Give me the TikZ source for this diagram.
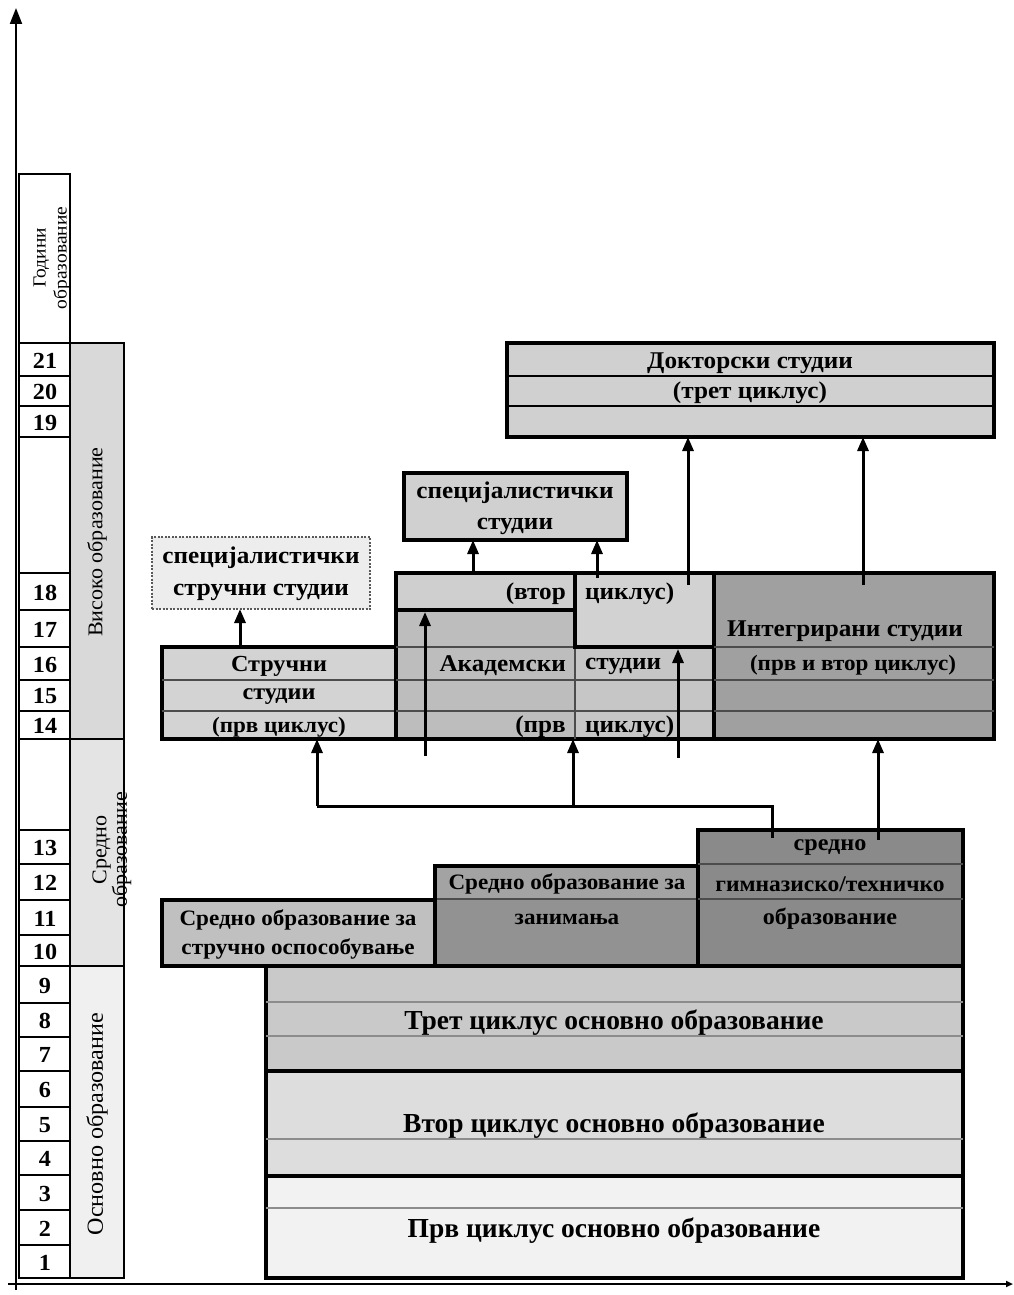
\documentclass[tikz,border=0pt]{standalone}
\usepackage{fontspec}
\setmainfont{Liberation Serif}[FakeStretch=1.05]
\newfontfamily\narrowf{Liberation Serif}
\usetikzlibrary{arrows.meta}
\definecolor{cDoc}{HTML}{D0D0D0}
\definecolor{cSpa}{HTML}{D0D0D0}
\definecolor{cSpp}{HTML}{EDEDED}
\definecolor{cStr}{HTML}{D3D3D3}
\definecolor{cALT}{HTML}{CFCFCF}
\definecolor{cALB}{HTML}{BDBDBD}
\definecolor{cART}{HTML}{D2D2D2}
\definecolor{cARB}{HTML}{C6C6C6}
\definecolor{cInt}{HTML}{A0A0A0}
\definecolor{cGym}{HTML}{8A8A8A}
\definecolor{cVocT}{HTML}{A3A3A3}
\definecolor{cVocB}{HTML}{929292}
\definecolor{cVtr}{HTML}{C0C0C0}
\definecolor{cP3}{HTML}{C9C9C9}
\definecolor{cP2}{HTML}{DDDDDD}
\definecolor{cP1}{HTML}{F2F2F2}
\definecolor{cHi}{HTML}{D9D9D9}
\definecolor{cMid}{HTML}{E4E4E4}
\definecolor{cPri}{HTML}{F0F0F0}
\newcommand\bx[6]{\pgfmathsetmacro\bxw{#4-#2}\pgfmathsetmacro\bxh{#5-#3}%
  \node[#6, minimum width=\bxw pt, minimum height=\bxh pt] (#1) at ({(#2+#4)/2},{(#3+#5)/2}) {};}
\begin{document}
\begin{tikzpicture}[x=1pt,y=-1pt,
  box/.style={draw=black, line width=3.4pt, inner sep=0pt, outer sep=0pt},
  cell/.style={draw=black, line width=2pt, inner sep=0pt, outer sep=0pt, fill=white},
  band/.style={draw=black, line width=1.4pt, inner sep=0pt, outer sep=0pt},
  sep/.style={draw=black!70, line width=1.2pt},
  psep/.style={draw=black!45, line width=1.2pt},
  tsep/.style={draw=black, line width=3.2pt},
  lbl/.style={font=\fontsize{24}{31}\selectfont\bfseries, inner sep=0pt, align=center},
  lbls/.style={font=\fontsize{22}{29}\selectfont\bfseries, inner sep=0pt, align=center},
  blbl/.style={font=\narrowf\fontsize{27.5}{30}\selectfont\bfseries, inner sep=0pt},
  num/.style={font=\fontsize{23}{24}\selectfont\bfseries, inner sep=0pt},
  vlab/.style={font=\fontsize{21}{21}\selectfont, rotate=90, inner sep=0pt, align=center},
  arr/.style={line width=3pt, -{Triangle[width=11pt,length=14pt]}},
  conn/.style={line width=3pt},
  dbox/.style={draw=black!65, line width=1.2pt, dash pattern=on 2pt off 1.5pt, inner sep=0pt, outer sep=0pt, fill=cSpp},
]
\useasboundingbox (0,0) rectangle (1014,1295);
\fill[white] (0,0) rectangle (1014,1295);

% ---------- axes ----------
\coordinate (ybot) at (16,1290);
\coordinate (ytop) at (16,8);
\coordinate (xbeg) at (8,1284);
\coordinate (xend) at (1013,1284);
\draw[line width=2pt, -{Triangle[width=12pt,length=16pt]}] (ybot) -- (ytop);
\draw[line width=2pt, -{Triangle[width=6pt,length=7pt]}] (xbeg) -- (xend);

% ---------- left column ----------
\bx{yrs}{19}{174}{70}{343}{cell}
\node[vlab, font=\fontsize{18.5}{21}\selectfont] (tyrs) at (52,258) {Години\\образование};
\foreach \n/\a/\b in {21/343/376, 20/376/406, 19/406/437, 18/573/610, 17/610/647,
  16/647/680, 15/680/711, 14/711/739, 13/830/864, 12/864/900, 11/900/935, 10/935/966,
  9/966/1003, 8/1003/1037, 7/1037/1071, 6/1071/1107, 5/1107/1141, 4/1141/1175,
  3/1175/1210, 2/1210/1245, 1/1245/1278}{
  \bx{n\n}{19}{\a}{70}{\b}{cell}
  \node[num] (t\n) at (45,{(\a+\b)/2+1}) {\n};
}
\bx{blankA}{19}{437}{70}{573}{cell}
\bx{blankB}{19}{739}{70}{830}{cell}
\bx{hi}{70}{343}{124}{739}{band, fill=cHi}
\bx{mid}{70}{739}{124}{966}{band, fill=cMid}
\bx{pri}{70}{966}{124}{1278}{band, fill=cPri}
\node[vlab] (thi) at (97,542) {Високо образование};
\node[vlab, font=\fontsize{21}{17}\selectfont] (tmid) at (112,850) {Средно\\образование};
\node[vlab, font=\fontsize{23}{23}\selectfont] (tpri) at (97,1124) {Основно образование};

% ---------- higher education ----------
\bx{doc}{507}{343}{994}{437}{box, fill=cDoc}
\draw[line width=2.4pt] (507,376) -- (994,376);
\draw[line width=2.4pt] (507,406) -- (994,406);
\node[lbl] (tdoc1) at (750,363) {Докторски студии};
\node[lbl] (tdoc2) at (750,393) {(трет циклус)};

\bx{spa}{404}{473}{627}{540}{box, fill=cSpa}
\node[lbl] (tspa) at (515,508) {специјалистички\\студии};

\bx{spp}{152}{537}{370}{609}{dbox}
\node[lbl, font=\fontsize{24}{32}\selectfont\bfseries] (tspp) at (261,574) {специјалистички\\стручни студии};

\bx{str}{162}{647}{396}{739}{box, fill=cStr}
\draw[sep] (162,680) -- (396,680);
\draw[sep] (162,711) -- (396,711);
\node[lbl, font=\fontsize{23}{25}\selectfont\bfseries] (tstr1) at (279,666) {Стручни};
\node[lbl, font=\fontsize{23}{25}\selectfont\bfseries] (tstr2) at (279,697) {студии};
\node[lbls] (tstr3) at (279,727) {(прв циклус)};

% academic
\fill[cALT] (396,573) rectangle (575,610);
\fill[cALB] (396,610) rectangle (575,739);
\fill[cART] (575,573) rectangle (714,647);
\fill[cARB] (575,647) rectangle (714,739);
\bx{aca}{396}{573}{714}{739}{box}
\draw[sep] (396,647) -- (575,647);
\draw[sep] (396,680) -- (714,680);
\draw[sep] (396,711) -- (714,711);
\draw[sep] (575,647) -- (575,739);
\draw[tsep] (396,610) -- (575,610);
\draw[tsep] (575,573) -- (575,647) -- (714,647);
\node[lbl, anchor=east] (ta1) at (566,594) {(втор};
\node[lbl, anchor=west] (ta2) at (585,594) {циклус)};
\node[lbl, anchor=east] (ta3) at (566,666) {Академски};
\node[lbl, anchor=west] (ta4) at (585,666) {студии};
\node[lbl, anchor=east] (ta5) at (566,727) {(прв};
\node[lbl, anchor=west] (ta6) at (585,727) {циклус)};

% integrated
\bx{int}{714}{573}{994}{739}{box, fill=cInt}
\draw[sep] (714,647) -- (994,647);
\draw[sep] (714,680) -- (994,680);
\draw[sep] (714,711) -- (994,711);
\node[lbl] (tint1) at (845,631) {Интегрирани студии};
\node[lbls] (tint2) at (853,665) {(прв и втор циклус)};

% ---------- secondary ----------
\fill[cVocT] (435,866) rectangle (698,899);
\fill[cVocB] (435,899) rectangle (698,966);
\bx{voc}{435}{866}{698}{966}{box}
\draw[sep] (435,899) -- (698,899);
\node[lbls] (tvoc1) at (567,884) {Средно образование за};
\node[lbls] (tvoc2) at (567,919) {занимања};

\bx{gym}{698}{830}{963}{966}{box, fill=cGym}
\draw[sep] (698,864) -- (963,864);
\draw[sep] (698,899) -- (963,899);
\node[lbl, font=\fontsize{23}{25}\selectfont\bfseries] (tgym1) at (830,848) {средно};
\node[lbl, font=\fontsize{22.4}{25}\selectfont\bfseries] (tgym2) at (830,884) {гимназиско/техничко};
\node[lbl, font=\fontsize{23}{25}\selectfont\bfseries] (tgym3) at (830,919) {образование};

\bx{vtr}{162}{900}{435}{966}{box, fill=cVtr}
\node[lbls] (tvtr) at (298,934) {Средно образование за\\стручно оспособување};

% ---------- primary ----------
\bx{p3}{266}{966}{963}{1071}{box, fill=cP3}
\draw[psep] (266,1002) -- (963,1002);
\draw[psep] (266,1036) -- (963,1036);
\node[blbl] (tp3) at (614,1023) {Трет циклус основно образование};
\bx{p2}{266}{1071}{963}{1176}{box, fill=cP2}
\draw[psep] (266,1139) -- (963,1139);
\node[blbl] (tp2) at (614,1126) {Втор циклус основно образование};
\bx{p1}{266}{1176}{963}{1278}{box, fill=cP1}
\draw[psep] (266,1208) -- (963,1208);
\node[blbl] (tp1) at (614,1231) {Прв циклус основно образование};

% ---------- connectors ----------
\coordinate (ka) at (240,647);
\draw[arr] (ka) -- (ka |- spp.south);
\coordinate (kb) at (473,573);
\draw[arr] (kb) -- (kb |- spa.south);
\coordinate (kc) at (597,578);
\draw[arr] (kc) -- (kc |- spa.south);
\coordinate (kd) at (688,585);
\draw[arr] (kd) -- (kd |- doc.south);
\coordinate (ke) at (863,585);
\draw[arr] (ke) -- (ke |- doc.south);
\coordinate (kf) at (425,756);
\coordinate (kf2) at (425,612);
\draw[arr] (kf) -- (kf2);
\coordinate (kg) at (678,758);
\coordinate (kg2) at (678,649);
\draw[arr] (kg) -- (kg2);
\coordinate (kh) at (772,838);
\coordinate (j1) at (317,806);
\coordinate (j2) at (573,806);
\coordinate (j3) at (772,806);
\draw[conn] (kh) -- (j3) -- (j1);
\draw[arr] (j1) -- (j1 |- str.south);
\draw[arr] (j2) -- (j2 |- aca.south);
\coordinate (ki) at (878,840);
\draw[arr] (ki) -- (ki |- int.south);
\end{tikzpicture}
\end{document}
